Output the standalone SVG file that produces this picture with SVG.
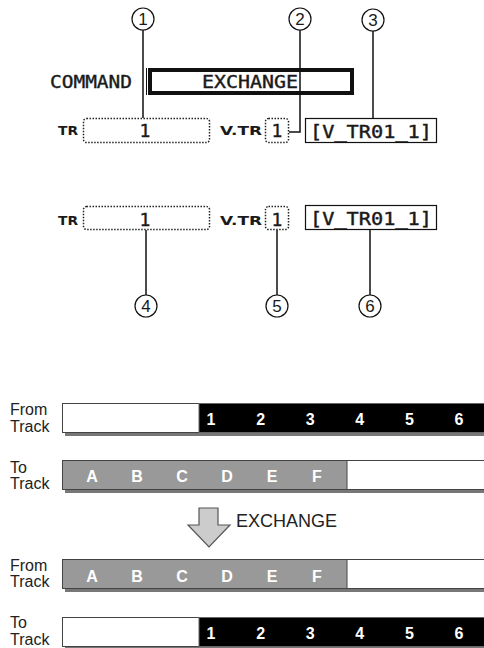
<svg xmlns="http://www.w3.org/2000/svg" width="484" height="648" viewBox="0 0 484 648">
<style>
.lcd{font-family:"DejaVu Sans Mono","Liberation Mono",monospace;fill:#1a1a1a}
.lab{font-family:"DejaVu Sans","Liberation Sans",sans-serif;font-weight:bold;fill:#1a1a1a}
.num{font-family:"Liberation Sans",Arial,sans-serif;font-size:17px;fill:#1a1a1a;text-anchor:middle}
.dot{fill:#fff;stroke:#222;stroke-width:1.5;stroke-dasharray:1.5 1.5}
.call{fill:#fff;stroke:#111;stroke-width:1.2}
.ln{fill:none;stroke:#111;stroke-width:1.5}
.tl{font-family:"Liberation Sans",Arial,sans-serif;font-size:16px;fill:#222}
.bn{font-family:"Liberation Sans",Arial,sans-serif;font-size:16px;font-weight:bold;fill:#fff;text-anchor:middle}
.sh{fill:#777}
.bar{fill:#fff;stroke:#444;stroke-width:1}
</style>
<rect width="484" height="648" fill="#fff"/>
<g id="command">
<text class="lcd" x="50" y="88" font-size="18" textLength="82" lengthAdjust="spacingAndGlyphs" stroke="#1a1a1a" stroke-width="0.4">COMMAND</text>
<line x1="146.5" y1="68" x2="146.5" y2="95" stroke="#111" stroke-width="1"/>
<rect x="150" y="70" width="202" height="23" fill="none" stroke="#111" stroke-width="4"/>
<text class="lcd" x="202" y="88" font-size="18" textLength="96" lengthAdjust="spacingAndGlyphs" stroke="#1a1a1a" stroke-width="0.4">EXCHANGE</text>
</g>
<g id="row1">
<text class="lab" x="58" y="135" font-size="13" textLength="20" lengthAdjust="spacingAndGlyphs">TR</text>
<rect class="dot" x="83.5" y="118.5" width="126" height="24" rx="3"/>
<text class="lcd" x="145" y="137" font-size="18" text-anchor="middle" stroke="#1a1a1a" stroke-width="0.4">1</text>
<text class="lab" x="220" y="135" font-size="13" textLength="42" lengthAdjust="spacingAndGlyphs">V.TR</text>
<rect class="dot" x="265.5" y="118.5" width="23" height="24" rx="3"/>
<text class="lcd" x="277" y="137" font-size="18" text-anchor="middle" stroke="#1a1a1a" stroke-width="0.4">1</text>
<rect x="305.5" y="118.5" width="131" height="24" fill="#fff" stroke="#111" stroke-width="1.2"/>
<text class="lcd" x="310" y="138" font-size="17" textLength="122" lengthAdjust="spacingAndGlyphs" stroke="#1a1a1a" stroke-width="0.4">[V_TR01_1]</text>
</g>
<g id="row2">
<text class="lab" x="58" y="225" font-size="13" textLength="20" lengthAdjust="spacingAndGlyphs">TR</text>
<rect class="dot" x="83.5" y="206.5" width="126" height="23" rx="3"/>
<text class="lcd" x="145" y="226" font-size="18" text-anchor="middle" stroke="#1a1a1a" stroke-width="0.4">1</text>
<text class="lab" x="220" y="225" font-size="13" textLength="42" lengthAdjust="spacingAndGlyphs">V.TR</text>
<rect class="dot" x="265.5" y="206.5" width="23" height="23" rx="3"/>
<text class="lcd" x="277" y="226" font-size="18" text-anchor="middle" stroke="#1a1a1a" stroke-width="0.4">1</text>
<rect x="305.5" y="205.5" width="131" height="24" fill="#fff" stroke="#111" stroke-width="1.2"/>
<text class="lcd" x="310" y="225" font-size="17" textLength="122" lengthAdjust="spacingAndGlyphs" stroke="#1a1a1a" stroke-width="0.4">[V_TR01_1]</text>
</g>
<g id="connectors">
<path class="ln" d="M143,30V118"/>
<path class="ln" d="M300,30V132H289"/>
<path class="ln" d="M373,31V118"/>
<path class="ln" d="M146,230V295"/>
<path class="ln" d="M277,230V295"/>
<path class="ln" d="M370,230V295"/>
</g>
<g id="c1"><circle class="call" cx="143" cy="19" r="11"/><text class="num" x="143" y="25">1</text></g>
<g id="c2"><circle class="call" cx="300" cy="19" r="11"/><text class="num" x="300" y="25">2</text></g>
<g id="c3"><circle class="call" cx="373" cy="20" r="11"/><text class="num" x="373" y="26">3</text></g>
<g id="c4"><circle class="call" cx="146" cy="306" r="11"/><text class="num" x="146" y="312">4</text></g>
<g id="c5"><circle class="call" cx="277" cy="306" r="11"/><text class="num" x="277" y="312">5</text></g>
<g id="c6"><circle class="call" cx="370" cy="306" r="11"/><text class="num" x="370" y="312">6</text></g>

<g id="bar1">
<text class="tl" x="10" y="415">From</text><text class="tl" x="10" y="432">Track</text>
<rect class="sh" x="65" y="406" width="420" height="30"/>
<rect class="bar" x="62.5" y="403.5" width="430" height="29"/>
<rect x="199" y="403.5" width="290" height="29" fill="#000" stroke="#666" stroke-width="1"/>
<text class="bn" x="211" y="425">1</text><text class="bn" x="260.6" y="425">2</text><text class="bn" x="310.2" y="425">3</text><text class="bn" x="359.8" y="425">4</text><text class="bn" x="409.4" y="425">5</text><text class="bn" x="459" y="425">6</text>
</g>
<g id="bar2">
<text class="tl" x="10" y="473">To</text><text class="tl" x="10" y="489">Track</text>
<rect class="sh" x="65" y="463" width="420" height="30"/>
<rect class="bar" x="62.5" y="460.5" width="430" height="29"/>
<rect x="62.5" y="460.5" width="284.5" height="29" fill="#999" stroke="#444" stroke-width="1"/>
<text class="bn" x="92" y="482">A</text><text class="bn" x="137" y="482">B</text><text class="bn" x="182" y="482">C</text><text class="bn" x="227" y="482">D</text><text class="bn" x="272" y="482">E</text><text class="bn" x="317" y="482">F</text>
</g>
<g id="arrow">
<polygon points="199,508 218,508 218,525 230,525 209,547 188,525 199,525" fill="#ccc" stroke="#555" stroke-width="1.2" stroke-linejoin="miter"/>
<text x="236" y="527" font-family="Liberation Sans,Arial,sans-serif" font-size="18" fill="#222">EXCHANGE</text>
</g>
<g id="bar3">
<text class="tl" x="10" y="571">From</text><text class="tl" x="10" y="587">Track</text>
<rect class="sh" x="65" y="562" width="420" height="30"/>
<rect class="bar" x="62.5" y="559.5" width="430" height="29"/>
<rect x="62.5" y="559.5" width="284.5" height="29" fill="#999" stroke="#444" stroke-width="1"/>
<text class="bn" x="92" y="582">A</text><text class="bn" x="137" y="582">B</text><text class="bn" x="182" y="582">C</text><text class="bn" x="227" y="582">D</text><text class="bn" x="272" y="582">E</text><text class="bn" x="317" y="582">F</text>
</g>
<g id="bar4">
<text class="tl" x="10" y="628">To</text><text class="tl" x="10" y="645">Track</text>
<rect class="sh" x="65" y="620" width="420" height="30"/>
<rect class="bar" x="62.5" y="617.5" width="430" height="29"/>
<rect x="199" y="617.5" width="290" height="29" fill="#000" stroke="#666" stroke-width="1"/>
<text class="bn" x="211" y="639">1</text><text class="bn" x="260.6" y="639">2</text><text class="bn" x="310.2" y="639">3</text><text class="bn" x="359.8" y="639">4</text><text class="bn" x="409.4" y="639">5</text><text class="bn" x="459" y="639">6</text>
</g>
</svg>
